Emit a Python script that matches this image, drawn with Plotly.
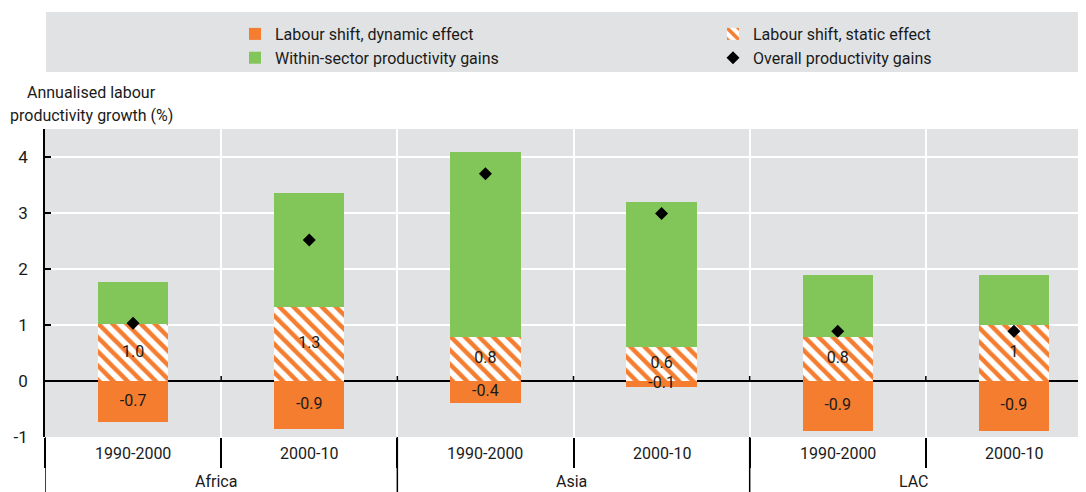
import plotly.graph_objects as go

# ---- data ----
periods = ["1990-2000", "2000-10", "1990-2000", "2000-10", "1990-2000", "2000-10"]
regions = ["Africa", "Asia", "LAC"]
region_label_pos = [0.47, 2.49, 4.43]
dynamic_effect = [-0.74, -0.86, -0.40, -0.10, -0.90, -0.90]
static_effect = [1.01, 1.32, 0.79, 0.60, 0.79, 1.00]
within_sector = [0.76, 2.03, 3.30, 2.60, 1.10, 0.89]
overall_gains = [1.03, 2.52, 3.70, 2.99, 0.89, 0.89]
dynamic_labels = ["-0.7", "-0.9", "-0.4", "-0.1", "-0.9", "-0.9"]
static_labels = ["1.0", "1.3", "0.8", "0.6", "0.8", "1"]
y_ticks = [-1, 0, 1, 2, 3, 4]
y_ticktext = ["-1", "0", "1", "2", "3", "4"]

ORANGE = "#F47D30"
GREEN = "#82C65A"
BG = "#E1E2E4"
FONT = "Roboto, Liberation Sans, sans-serif"
TXT = "#1a1a1a"

x = list(range(len(periods)))
OFF = 8  # default page body margin
WIN_W, WIN_H = 1086, 492
W, H = WIN_W - OFF, WIN_H - OFF
# target plot area in window pixels: left 45, top 129, bottom 437, right edge of window
ml = 45 - OFF
mt = 129 - OFF
mb = H - (437 - OFF)
mr = 0
plot_w = W - ml - mr
plot_h = H - mt - mb
xr = [-0.5, 5.5 - 16 / 176]
yr = [-1, 4.5]


def py(win_y):
    """window pixel y -> paper y"""
    return (H - mb - (win_y - OFF)) / plot_h


def px(win_x):
    """window pixel x -> paper x"""
    return (win_x - OFF - ml) / plot_w


fig = go.Figure()
fig.add_trace(go.Bar(
    x=x, y=dynamic_effect, name="Labour shift, dynamic effect",
    marker=dict(color=ORANGE, line=dict(width=0)), width=0.4, legend="legend",
    hoverinfo="skip"))
fig.add_trace(go.Bar(
    x=x, y=static_effect, name="Labour shift, static effect",
    marker=dict(color="white", line=dict(width=0),
                pattern=dict(shape="\\", fgcolor=ORANGE, bgcolor="white",
                             size=10, solidity=0.45, fillmode="replace")),
    width=0.4, legend="legend2", hoverinfo="skip"))
fig.add_trace(go.Bar(
    x=x, y=within_sector, name="Within-sector productivity gains",
    marker=dict(color=GREEN, line=dict(width=0)), width=0.4, legend="legend",
    hoverinfo="skip"))
fig.add_trace(go.Scatter(
    x=x, y=overall_gains, name="Overall productivity gains", mode="markers",
    marker=dict(symbol="diamond", color="black", size=10), legend="legend2",
    hoverinfo="skip"))
# value labels
fig.add_trace(go.Scatter(
    x=x, y=[v / 2 for v in static_effect], text=static_labels, mode="text",
    textfont=dict(family=FONT, size=16, color=TXT), showlegend=False,
    hoverinfo="skip"))
fig.add_trace(go.Scatter(
    x=x, y=[v / 2 for v in dynamic_effect], text=dynamic_labels, mode="text",
    textfont=dict(family=FONT, size=16, color=TXT), showlegend=False,
    hoverinfo="skip"))

boundaries = [i + 0.5 for i in range(-1, len(periods))]

shapes = []
# legend background
shapes.append(dict(type="rect", xref="paper", yref="paper", x0=px(46), x1=1.0,
                   y0=py(72), y1=py(12), fillcolor=BG, line=dict(width=0), layer="below"))
# group separators extending to bottom
for b in [-0.5, 1.5, 3.5]:
    shapes.append(dict(type="line", xref="x", yref="paper", x0=b, x1=b,
                       y0=0, y1=py(WIN_H + 2), line=dict(color="black", width=1.5)))
# small ticks above the zero line
for b in boundaries[1:]:
    shapes.append(dict(type="line", xref="x", yref="y", x0=b, x1=b,
                       y0=0, y1=0.09, line=dict(color="black", width=1.5)))

annotations = []
for i, p in enumerate(periods):
    annotations.append(dict(x=i, y=py(453), xref="x", yref="paper", text=p,
                            showarrow=False, yanchor="middle",
                            font=dict(family=FONT, size=16, color=TXT)))
for r, pos in zip(regions, region_label_pos):
    annotations.append(dict(x=pos, y=py(481), xref="x", yref="paper", text=r,
                            showarrow=False, yanchor="middle",
                            font=dict(family=FONT, size=16, color=TXT)))
annotations.append(dict(x=px(91), y=py(92), xref="paper", yref="paper",
                        text="Annualised labour", showarrow=False, yanchor="middle",
                        xanchor="center", font=dict(family=FONT, size=16, color=TXT)))
annotations.append(dict(x=px(91), y=py(115), xref="paper", yref="paper",
                        text="productivity growth (%)", showarrow=False, yanchor="middle",
                        xanchor="center", font=dict(family=FONT, size=16, color=TXT)))

legend_common = dict(orientation="v", bgcolor="rgba(0,0,0,0)", borderwidth=0,
                     font=dict(family=FONT, size=16, color=TXT), yanchor="top",
                     xanchor="left", traceorder="normal", itemwidth=30,
                     tracegroupgap=0)

fig.update_layout(
    width=W, height=H,
    margin=dict(l=ml, r=mr, t=mt, b=mb, autoexpand=False),
    paper_bgcolor="white", plot_bgcolor=BG,
    barmode="relative", bargap=0,
    font=dict(family=FONT, size=16, color=TXT),
    showlegend=True,
    legend=dict(x=px(235), y=py(17), **legend_common),
    legend2=dict(x=px(713), y=py(17), **legend_common),
    xaxis=dict(range=xr, tickmode="array", tickvals=boundaries, showticklabels=False,
               showgrid=True, gridcolor="white", gridwidth=2, ticks="outside",
               ticklen=30, tickwidth=1.5, tickcolor="black", zeroline=False,
               showline=False, fixedrange=True),
    yaxis=dict(range=yr, tickmode="array", tickvals=y_ticks, ticktext=y_ticktext,
               showgrid=True, gridcolor="white", gridwidth=2,
               zeroline=True, zerolinecolor="black", zerolinewidth=2,
               showline=True, linecolor="black", linewidth=1.5,
               ticks="inside", ticklen=6, tickcolor="black", tickwidth=1.5,
               ticklabelstandoff=12,
               tickfont=dict(family=FONT, size=17, color=TXT), fixedrange=True),
    shapes=shapes, annotations=annotations,
)

fig.write_html("out.html")
